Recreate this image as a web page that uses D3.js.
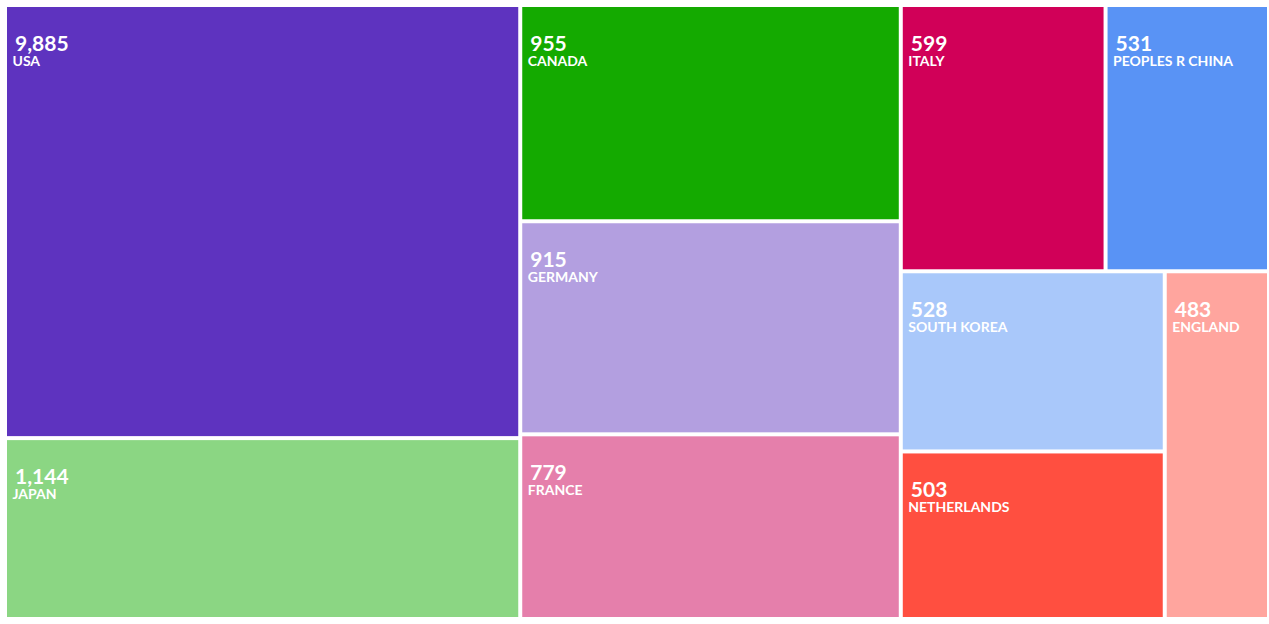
<!DOCTYPE html>
<html>
<head>
<meta charset="utf-8">
<script src="https://cdn.jsdelivr.net/npm/d3@7"></script>
<style>
  html, body { margin: 0; padding: 0; background: #ffffff; }
  svg { display: block; }
</style>
</head>
<body>
<svg id="chart" width="1269" height="624"></svg>
<script>
// ---- data ----
const countries = ["USA", "JAPAN", "CANADA", "GERMANY", "FRANCE", "ITALY", "PEOPLES R CHINA", "SOUTH KOREA", "NETHERLANDS", "ENGLAND"];
const values    = [9885, 1144, 955, 915, 779, 599, 531, 528, 503, 483];
// relative tile sizes as measured on the picture (thousands of px²)
const tileSizes = [221.0, 92.3, 81.5, 80.3, 69.6, 54.0, 43.1, 47.1, 43.8, 35.9];
// block in which each tile sits in the reference layout
const blocks    = ["a", "a", "b", "b", "b", "c/1", "c/1", "c/2/x", "c/2/x", "c/2"];
const colors    = ["#5E33BF", "#8BD683", "#14AA00", "#B39FE0", "#E57FAB", "#D10058", "#5993F5", "#A9C8FA", "#FF4F40", "#FFA59E"];

const rows = countries.map((c, i) => ({
  path: "/" + blocks[i] + "/" + c,
  idx: i, name: c, value: values[i], size: tileSizes[i], color: colors[i]
}));

const root = d3.stratify().path(d => d.path)(rows)
  .sum(d => d ? (d.size || 0) : 0);

// keep the original order of the countries at every level
const firstIdx = n => d3.min(n.leaves(), l => l.data.idx);
root.sort((a, b) => firstIdx(a) - firstIdx(b));

const X0 = 7, Y0 = 7, W = 1260, H = 610;
d3.treemap()
  .tile(d3.treemapSliceDice)
  .size([W, H])
  .paddingInner(4)
  .round(false)(root);

const svg = d3.select("#chart");
const g = svg.append("g").attr("transform", `translate(${X0},${Y0})`);
const fmt = d3.format(",");

const leaf = g.selectAll("g.leaf")
  .data(root.leaves())
  .join("g")
  .attr("class", "leaf")
  .attr("transform", d => `translate(${d.x0},${d.y0})`);

leaf.append("rect")
  .attr("width", d => d.x1 - d.x0)
  .attr("height", d => d.y1 - d.y0)
  .attr("fill", d => d.data.color);

leaf.append("text")
  .attr("x", 8)
  .attr("y", 43.5)
  .attr("fill", "#ffffff")
  .style("font-family", "Lato, 'Open Sans', sans-serif")
  .style("font-weight", 700)
  .style("font-size", "21px")
  .text(d => fmt(d.data.value));

leaf.append("text")
  .attr("x", 5.5)
  .attr("y", 58.5)
  .attr("fill", "#ffffff")
  .style("font-family", "Lato, 'Open Sans', sans-serif")
  .style("font-weight", 700)
  .style("font-size", "14px")
  .text(d => d.data.name);
</script>
</body>
</html>
